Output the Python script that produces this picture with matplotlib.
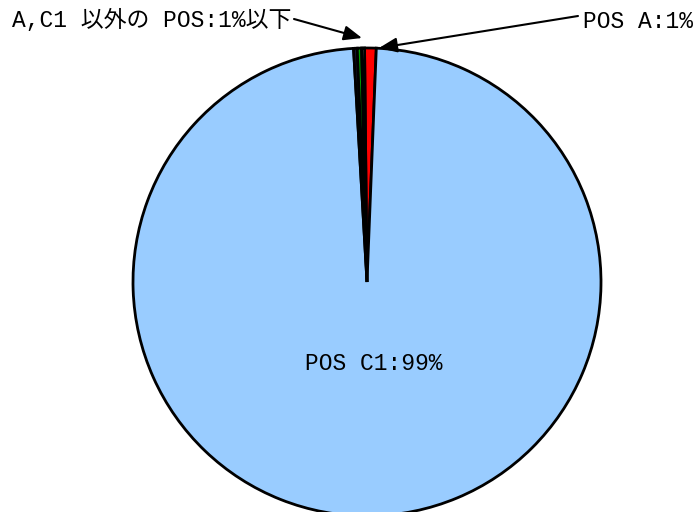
import matplotlib
matplotlib.use("Agg")
import matplotlib.pyplot as plt

# share of each POS type (percent), drawn clockwise from the top
names = ["POS A", "POS C1", "POS B", "POS C2", "POS D"]
shares = [0.8, 98.45, 0.25, 0.3, 0.2]
colors = ["#FF0000", "#99CCFF", "#1A1A40", "#00A000", "#FFFFFF"]
explode_px = [0, 0, 0, 0, 6]

label_c1 = "POS C1:99%"
label_a = "POS A:1%"
label_other = "A,C1 以外の POS:1%以下"

W, H = 700, 512
fig = plt.figure(figsize=(W / 100, H / 100), dpi=100)
ax = fig.add_axes([0, 0, 1, 1])

cx, cy, r = 367, H - 282, 234
ax.pie(shares, colors=colors, center=(cx, cy), radius=r,
       startangle=90.6, counterclock=False,
       explode=[e / r for e in explode_px],
       wedgeprops=dict(edgecolor="black", linewidth=2.0),
       frame=True)
ax.set_xlim(0, W)
ax.set_ylim(0, H)
ax.set_aspect("equal")
ax.axis("off")

fam = ["Liberation Mono", "Noto Sans CJK JP"]
ax.text(374, H - 363, label_c1, ha="center", va="center", fontsize=16.5, family=fam)
ax.text(583, H - 22, label_a, ha="left", va="center", fontsize=16.5, family=fam)
ax.text(12, H - 20, label_other, ha="left", va="center", fontsize=16.5, family=fam)

arrow = dict(arrowstyle="-|>,head_length=1.1,head_width=0.45", color="black", lw=1.5,
             shrinkA=0, shrinkB=0)
ax.annotate("", xy=(362, H - 38), xytext=(294, H - 19), arrowprops=arrow)
ax.annotate("", xy=(379, H - 48), xytext=(578, H - 16), arrowprops=arrow)

fig.savefig("out.png", dpi=100)
